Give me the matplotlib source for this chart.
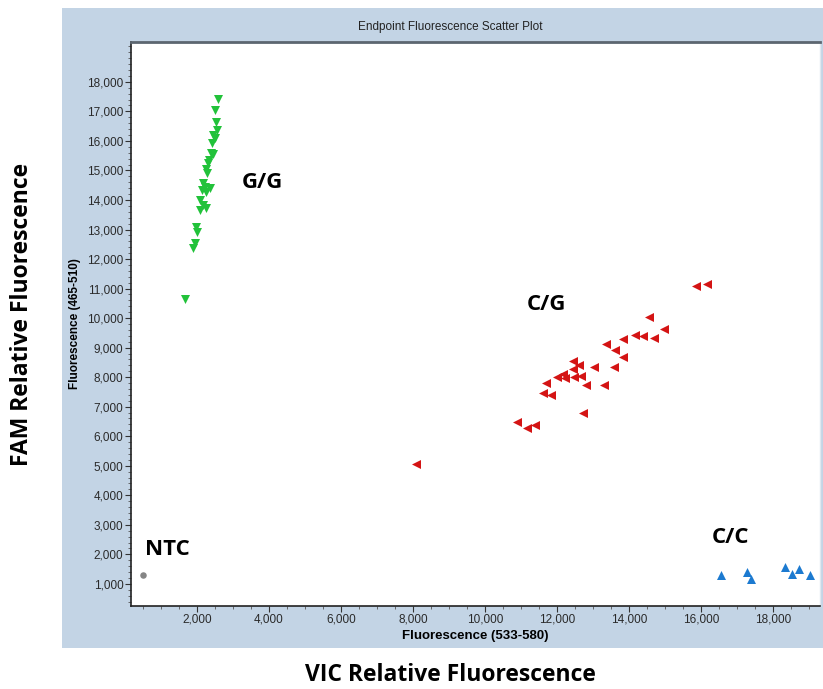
import matplotlib
matplotlib.use("Agg")
import matplotlib.pyplot as plt
from matplotlib.patches import Rectangle
from matplotlib.ticker import FuncFormatter, MultipleLocator, FixedLocator

# ---- data (VIC = x, FAM = y) ----
gg_x = [2592, 2500, 2528, 2547, 2453, 2500, 2408, 2389, 2436, 2342, 2314, 2250, 2286,
        2175, 2222, 2361, 2131, 2250, 2083, 2175, 2250, 2083, 1972, 1992, 1944, 1897, 1667]
gg_y = [17411, 17049, 16652, 16371, 16202, 16090, 15941, 15582, 15559, 15355, 15244, 15041, 14905,
        14567, 14451, 14397, 14340, 14282, 14001, 13832, 13720, 13662, 13097, 12928, 12535, 12366, 10639]

cg_x = [15861, 16167, 14565, 14981, 14167, 14398, 14695, 13826, 13362, 13612, 13826, 12454, 12621,
        13029, 13584, 12454, 12159, 12009, 12223, 12473, 12668, 11695, 12807, 13307, 11620, 11834,
        12715, 10881, 11159, 11390, 8084]
cg_y = [11089, 11157, 10029, 9623, 9420, 9396, 9318, 9284, 9125, 8922, 8675, 8560, 8414,
        8336, 8357, 8269, 8110, 7998, 7964, 7998, 8042, 7815, 7737, 7737, 7456, 7398,
        6799, 6494, 6271, 6383, 5062]

cc_x = [16557, 17271, 17390, 18335, 18521, 18724, 19010]
cc_y = [1304, 1415, 1168, 1585, 1337, 1497, 1314]

ntc_x = [510]
ntc_y = [1304]

cluster_labels = ["G/G", "C/G", "NTC", "C/C"]
label_pos = [(3250, 14580), (11170, 10450), (560, 2150), (16300, 2560)]

x_ticks = [2000, 4000, 6000, 8000, 10000, 12000, 14000, 16000, 18000]
y_ticks = [1000, 2000, 3000, 4000, 5000, 6000, 7000, 8000, 9000,
           10000, 11000, 12000, 13000, 14000, 15000, 16000, 17000, 18000]

title = "Endpoint Fluorescence Scatter Plot"
xlabel_inner = "Fluorescence (533-580)"
ylabel_inner = "Fluorescence (465-510)"
xlabel_outer = "VIC Relative Fluorescence"
ylabel_outer = "FAM Relative Fluorescence"

W, H = 823, 689
fig = plt.figure(figsize=(W / 100, H / 100), dpi=100)
fig.patch.set_facecolor("white")

# light-blue panel
panel = Rectangle((62 / W, 1 - 648 / H), (823 - 62) / W, (648 - 8) / H,
                  transform=fig.transFigure, facecolor="#c3d4e5", edgecolor="none", zorder=-10)
fig.patches.append(panel)

ax = fig.add_axes([131 / W, 1 - 606 / H, (820 - 131) / W, (606 - 42) / H])
ax.set_zorder(1)
ax.set_facecolor("white")
ax.set_xlim(170, 19300)
ax.set_ylim(250, 19350)

ax.scatter(gg_x, gg_y, marker="v", s=42, color="#22c23a", linewidths=0, zorder=3)
ax.scatter(cg_x, cg_y, marker="<", s=42, color="#d41414", linewidths=0, zorder=3)
ax.scatter(cc_x, cc_y, marker="^", s=42, color="#1c7ad0", linewidths=0, zorder=3)
ax.scatter(ntc_x, ntc_y, marker="o", s=22, color="#858585", linewidths=0, zorder=3)

for lab, (lx, ly) in zip(cluster_labels, label_pos):
    ax.text(lx, ly, lab, fontsize=16, fontweight="bold", family=["Open Sans", "DejaVu Sans"],
            ha="left", va="center", color="black", zorder=4)

fmt = FuncFormatter(lambda v, p: f"{int(v):,}")
ax.xaxis.set_major_locator(FixedLocator(x_ticks))
ax.xaxis.set_minor_locator(MultipleLocator(500))
ax.yaxis.set_major_locator(FixedLocator(y_ticks))
ax.yaxis.set_minor_locator(MultipleLocator(200))
ax.xaxis.set_major_formatter(fmt)
ax.yaxis.set_major_formatter(fmt)
ax.tick_params(axis="both", which="major", direction="out", length=4, width=0.8,
               colors="#333333", labelsize=8.5, labelcolor="#2a2a2a", pad=1.5)
ax.tick_params(axis="both", which="minor", direction="out", length=2, width=0.6, colors="#555555")
for lbl in ax.get_xticklabels() + ax.get_yticklabels():
    lbl.set_family(["Liberation Sans", "DejaVu Sans"])

ax.spines["top"].set_color("#5c6670")
ax.spines["top"].set_linewidth(2)
ax.spines["left"].set_color("#222222")
ax.spines["left"].set_linewidth(1.2)
ax.spines["bottom"].set_color("#222222")
ax.spines["bottom"].set_linewidth(1.2)
ax.spines["right"].set_color("#e0e8f0")
ax.spines["right"].set_linewidth(1)

ax.set_xlabel(xlabel_inner, fontsize=9.5, fontweight="bold", family=["Liberation Sans", "DejaVu Sans"],
              labelpad=3)
ax.set_ylabel(ylabel_inner, fontsize=8.5, fontweight="bold", family=["Liberation Sans", "DejaVu Sans"],
              labelpad=4)

fig.text(450 / W, 1 - 27 / H, title, fontsize=8.5, ha="center", va="center",
         family=["Liberation Sans", "DejaVu Sans"], color="#222222")
fig.text(450 / W, 1 - 675 / H, xlabel_outer, fontsize=16.5, fontweight="bold", ha="center",
         va="center", family=["Open Sans", "DejaVu Sans"])
fig.text(22 / W, 1 - 314 / H, ylabel_outer, fontsize=16.5, fontweight="bold", ha="center",
         va="center", rotation=90, family=["Open Sans", "DejaVu Sans"])

fig.savefig("out.png", dpi=100)
